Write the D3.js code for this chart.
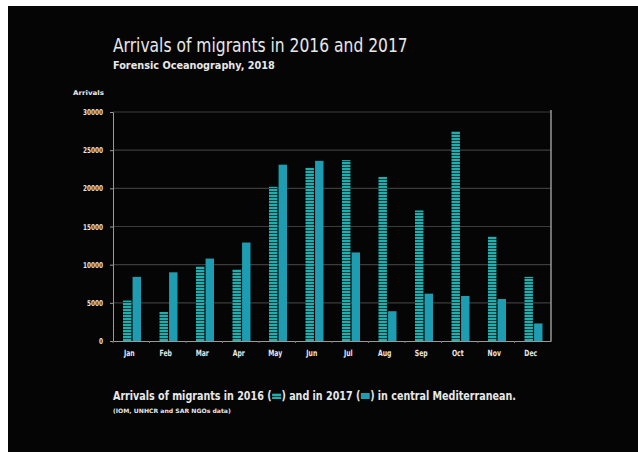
<!DOCTYPE html>
<html>
<head>
<meta charset="utf-8">
<script src="https://cdn.jsdelivr.net/npm/d3@7"></script>
<style>
  body { margin: 0; background: #ffffff; }
  svg { display: block; }
  text { font-family: "DejaVu Sans Condensed", "DejaVu Sans", sans-serif; fill: #e8e8e8; }
</style>
</head>
<body>
<svg id="chart" width="638" height="452"></svg>
<script>
const months = ["Jan","Feb","Mar","Apr","May","Jun","Jul","Aug","Sep","Oct","Nov","Dec"];
const years = ["2016","2017"];
const arrivals2016 = [5300, 3800, 9800, 9400, 20200, 22700, 23700, 21500, 17100, 27500, 13700, 8400];
const arrivals2017 = [8400, 9000, 10800, 12900, 23100, 23600, 11600, 3900, 6200, 5900, 5500, 2300];
const yTicks = [0, 5000, 10000, 15000, 20000, 25000, 30000];
const title = "Arrivals of migrants in 2016 and 2017";
const subtitle = "Forensic Oceanography, 2018";
const yLabel = "Arrivals";
const captionParts = ["Arrivals of migrants in 2016 (", ") and in 2017 (", ") in central Mediterranean."];
const source = "(IOM, UNHCR and SAR NGOs data)";

const svg = d3.select("#chart");
const W = 638, H = 452;
const plot = {left: 113, right: 551, top: 112, bottom: 341};
const col2016 = "#1fb0ae", col2017 = "#1e9db2";

svg.append("rect").attr("x", 8).attr("y", 6).attr("width", W - 8).attr("height", H - 6).attr("fill", "#050505");

const defs = svg.append("defs");
const pat = defs.append("pattern").attr("id", "hatch").attr("patternUnits", "userSpaceOnUse")
  .attr("width", 4).attr("height", 3);
pat.append("rect").attr("width", 4).attr("height", 3).attr("fill", col2016);
pat.append("rect").attr("y", 2).attr("width", 4).attr("height", 1).attr("fill", "#0b3b40");

const x = d3.scaleBand().domain(months).range([plot.left, plot.right]);
const xs = d3.scaleBand().domain(years).range([-9, 9]).paddingInner(0.12);
const y = d3.scaleLinear().domain([0, 30000]).range([plot.bottom, plot.top]);

// gridlines
svg.append("g").selectAll("line").data(yTicks.filter(d => d > 0)).join("line")
  .attr("x1", plot.left).attr("x2", plot.right)
  .attr("y1", d => y(d)).attr("y2", d => y(d))
  .attr("stroke", "#3c3c3c").attr("stroke-width", 1.2);

// y axis
const yAxis = svg.append("g").attr("transform", `translate(${plot.left},0)`)
  .call(d3.axisLeft(y).tickValues(yTicks).tickSize(3).tickFormat(d3.format("d")));
yAxis.select(".domain").attr("stroke", "#999");
yAxis.selectAll(".tick line").attr("stroke", "#999");
yAxis.selectAll("text").attr("fill", "#e0e0e0").attr("font-size", 8).attr("font-weight", "bold").attr("x", 0)
  .attr("transform", "translate(-10,0) scale(0.8,1)");

svg.append("line").attr("x1", plot.right).attr("x2", plot.right).attr("y1", plot.top - 2).attr("y2", plot.bottom)
  .attr("stroke", "#bbb").attr("stroke-width", 1.2);

// x axis
const xAxis = svg.append("g").attr("transform", `translate(0,${plot.bottom})`)
  .call(d3.axisBottom(x).tickSize(0).tickPadding(9));
xAxis.select(".domain").attr("stroke", "#999");
xAxis.selectAll("text").attr("fill", "#e0e0e0").attr("font-size", 8.5).attr("font-weight", "bold")
  .attr("transform", "translate(-2,0) scale(0.8,1)");
svg.append("g").selectAll("line").data(months).join("line")
  .attr("x1", d => x(d)).attr("x2", d => x(d))
  .attr("y1", plot.bottom).attr("y2", plot.bottom + 2).attr("stroke", "#777");

// bars
const rows = months.map((m, i) => ({m, v: [arrivals2016[i], arrivals2017[i]]}));
const groups = svg.append("g").selectAll("g").data(rows).join("g")
  .attr("transform", d => `translate(${x(d.m) + x.bandwidth() / 2 + 0.75},0)`);
groups.selectAll("rect").data(d => years.map((yr, j) => ({yr, v: d.v[j]}))).join("rect")
  .attr("x", d => xs(d.yr))
  .attr("width", xs.bandwidth())
  .attr("y", d => y(d.v))
  .attr("height", d => y(0) - y(d.v))
  .attr("fill", d => d.yr === "2016" ? "url(#hatch)" : col2017);

// text blocks fitted to the widths seen in the reference
function fittedText(x0, y0, str, size, weight, fill, target, anchor) {
  const g = svg.append("g");
  const t = g.append("text").attr("x", 0).attr("y", 0).attr("font-size", size)
    .attr("font-weight", weight).attr("fill", fill).text(str);
  const k = target / t.node().getComputedTextLength();
  if (anchor === "end") t.attr("text-anchor", "end");
  g.attr("transform", `translate(${x0},${y0}) scale(${k},1)`);
  return g;
}
fittedText(113, 52, title, 20, 500, "#f2f2f2", 295);
fittedText(113, 69, subtitle, 11, "bold", "#dcdcdc", 162);
fittedText(104, 95, yLabel, 6.5, "bold", "#dcdcdc", 31, "end");
fittedText(113, 413, source, 6, "bold", "#cfcfcf", 118);

// caption with legend swatches
const capG = svg.append("g");
const swW = 11;
let cx = 0;
const swatchFills = ["url(#hatch)", col2017];
captionParts.forEach((p, i) => {
  const t = capG.append("text").attr("x", cx).attr("y", 0).attr("font-size", 12)
    .attr("font-weight", "bold").attr("fill", "#ececec").text(p);
  cx += t.node().getComputedTextLength();
  if (i < swatchFills.length) {
    capG.append("rect").attr("x", cx + 0.5).attr("y", -7).attr("width", swW - 1).attr("height", 6)
      .attr("fill", swatchFills[i]);
    cx += swW;
  }
});
const kCap = 403 / cx;
capG.attr("transform", `translate(113,400) scale(${kCap},1)`);
</script>
</body>
</html>
